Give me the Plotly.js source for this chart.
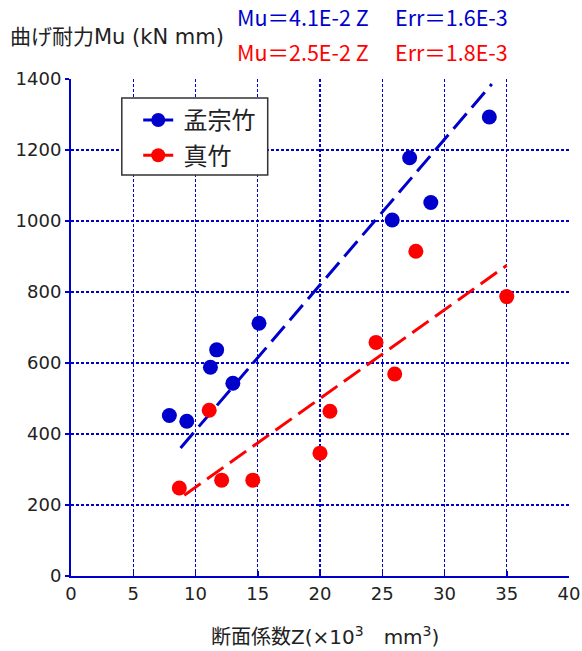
<!DOCTYPE html>
<html>
<head>
<meta charset="utf-8">
<script src="https://cdn.plot.ly/plotly-3.0.1.min.js"></script>
<style>
  html, body { margin: 0; padding: 0; background: #fff; }
  #chart { width: 582px; height: 651px; }
</style>
</head>
<body>
<div id="chart"></div>
<script>
// 孟宗竹 (moso bamboo): section modulus Z (×10^3 mm^3) vs bending strength Mu (kN mm)
const mosoZ  = [7.9, 9.3, 11.2, 11.7, 13.0, 15.1, 25.8, 27.2, 28.9, 33.6];
const mosoMu = [452, 436, 588, 637, 543, 712, 1003, 1178, 1052, 1293];

// 真竹 (madake bamboo)
const madakeZ  = [8.7, 11.1, 12.1, 14.6, 20.0, 20.8, 24.5, 26.0, 27.7, 35.0];
const madakeMu = [248, 467, 270, 270, 346, 464, 658, 569, 915, 787];

// Regression coefficients (Mu = k·Z, Z in mm^3 → ×10^3 scale factor)
const mosoK = 4.1e-2;
const madakeK = 2.5e-2;
const mosoErr = '1.6E-3';
const madakeErr = '1.8E-3';
const mosoFitZ = [8.8, 33.8];
const madakeFitZ = [9.1, 35.0];

const xTicks = [0, 5, 10, 15, 20, 25, 30, 35, 40];
const yTicks = [0, 200, 400, 600, 800, 1000, 1200, 1400];

const BLUE = '#0000cc';
const RED = '#ff0000';
const FONT = '"DejaVu Sans", "Noto Sans CJK JP", sans-serif';
const CJK = '"Noto Sans CJK JP", "DejaVu Sans", sans-serif';

const fit = (zs, k) => zs.map(z => k * z * 1000);
const fmtK = k => k.toExponential(1).replace('e', 'E').replace('+', '');

const traces = [
  {
    x: mosoFitZ, y: fit(mosoFitZ, mosoK), mode: 'lines', showlegend: false,
    line: { color: BLUE, width: 3, dash: '20px,8px' }, hoverinfo: 'skip'
  },
  {
    x: madakeFitZ, y: fit(madakeFitZ, madakeK), mode: 'lines', showlegend: false,
    line: { color: RED, width: 3, dash: '20px,8px' }, hoverinfo: 'skip'
  },
  {
    x: mosoZ, y: mosoMu, mode: 'markers', name: '孟宗竹', showlegend: false,
    marker: { color: BLUE, size: 15, line: { width: 0 } }
  },
  {
    x: madakeZ, y: madakeMu, mode: 'markers', name: '真竹', showlegend: false,
    marker: { color: RED, size: 15, line: { width: 0 } }
  },
  // legend keys (line + marker)
  {
    x: [null], y: [null], mode: 'lines+markers', name: '\u00a0孟宗竹', legendgroup: 'a',
    line: { color: BLUE, width: 3 }, marker: { color: BLUE, size: 14 }
  },
  {
    x: [null], y: [null], mode: 'lines+markers', name: '\u00a0真竹', legendgroup: 'b',
    line: { color: RED, width: 3 }, marker: { color: RED, size: 14 }
  }
];

const axisCommon = {
  showline: true, linecolor: BLUE, linewidth: 2, mirror: false,
  showgrid: true, gridcolor: BLUE, gridwidth: 1.2, griddash: '3px,2px',
  zeroline: false, tickcolor: BLUE, tickwidth: 1.5,
  tickfont: { family: FONT, size: 18, color: '#222' }, fixedrange: true
};

const layout = {
  width: 582, height: 651,
  margin: { l: 71, r: 13, t: 79, b: 75 },
  paper_bgcolor: '#fff', plot_bgcolor: '#fff',
  font: { family: FONT, color: '#222' },
  showlegend: true,
  legend: {
    x: 0.135, y: 0.962, xanchor: 'left', yanchor: 'top',
    bgcolor: 'rgba(0,0,0,0)', borderwidth: 0,
    font: { family: CJK, size: 24 }, tracegroupgap: 1
  },
  // legend frame
  shapes: [{
    type: 'rect', xref: 'paper', yref: 'paper', layer: 'above',
    x0: 0.102, x1: 0.395, y0: 0.807, y1: 0.962,
    fillcolor: '#fff', line: { color: '#333', width: 1.5 }
  }],
  xaxis: Object.assign({}, axisCommon, {
    range: [0, 40], tickvals: xTicks, ticktext: xTicks.map(String),
    ticks: 'inside', ticklen: 5
  }),
  yaxis: Object.assign({}, axisCommon, {
    range: [0, 1400], tickvals: yTicks, ticktext: yTicks.map(String),
    ticks: 'outside', ticklen: 4
  }),
  annotations: [
    {
      // x-axis title
      xref: 'paper', yref: 'paper', x: 0.511, y: -0.12, xanchor: 'center', yanchor: 'middle',
      text: '断面係数Z(×10<sup>3</sup>\u3000mm<sup>3</sup>)', showarrow: false,
      font: { family: FONT, size: 20, color: '#222' }
    },
    {
      xref: 'paper', yref: 'paper', x: -0.127, y: 1.085, xanchor: 'left', yanchor: 'middle',
      text: '曲げ耐力Mu (kN mm)', showarrow: false,
      font: { family: FONT, size: 21, color: '#222' }
    },
    {
      xref: 'paper', yref: 'paper', x: 0.33, y: 1.125, xanchor: 'left', yanchor: 'middle',
      text: 'Mu＝' + fmtK(mosoK) + ' Z\u3000 Err＝' + mosoErr, showarrow: false,
      font: { family: CJK, size: 21.5, color: BLUE }
    },
    {
      xref: 'paper', yref: 'paper', x: 0.33, y: 1.056, xanchor: 'left', yanchor: 'middle',
      text: 'Mu＝' + fmtK(madakeK) + ' Z\u3000 Err＝' + madakeErr, showarrow: false,
      font: { family: CJK, size: 21.5, color: RED }
    }
  ]
};

Plotly.newPlot('chart', traces, layout, { staticPlot: true, displayModeBar: false });
</script>
</body>
</html>
